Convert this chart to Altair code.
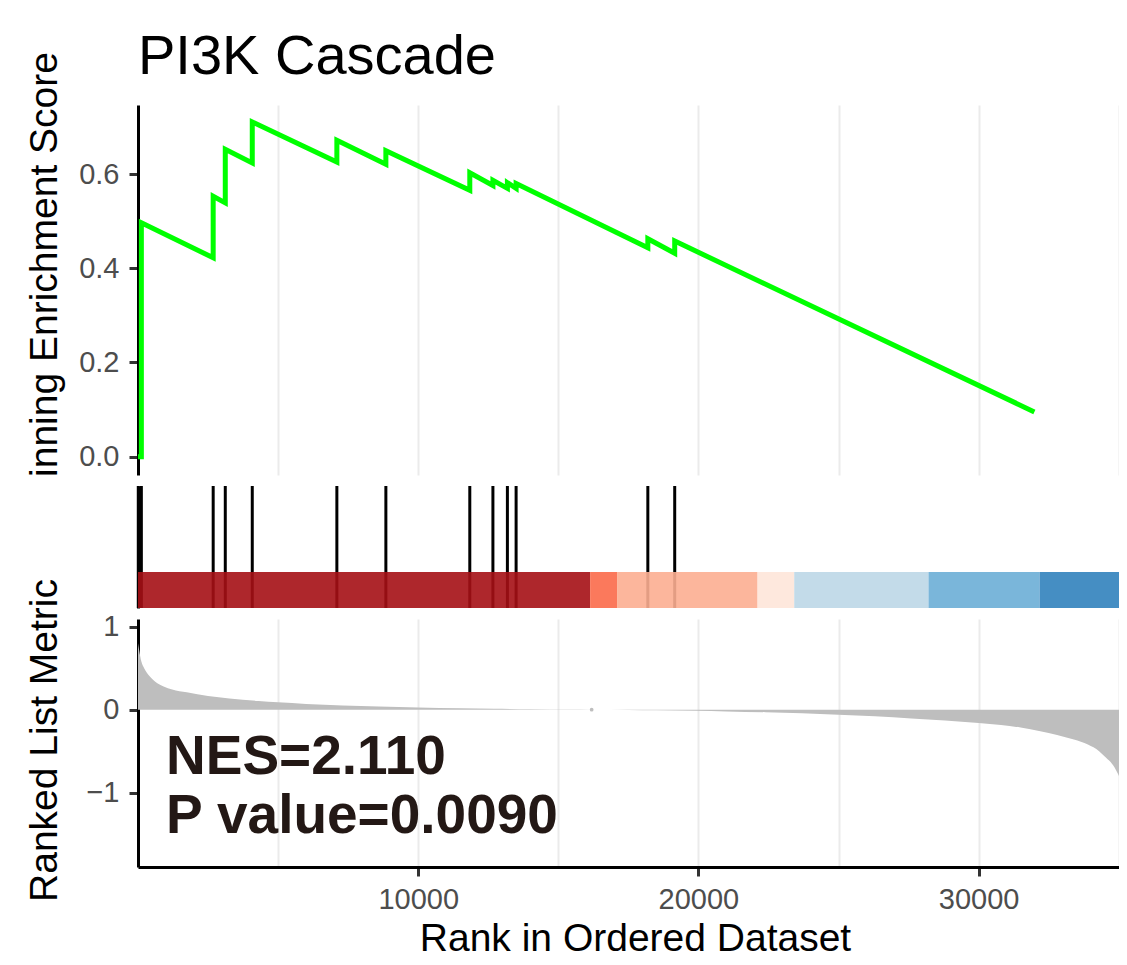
import altair as alt
import pandas as pd

FONT = "Liberation Sans"

# ---- data ----
# running enrichment score path (drawing order; equal ranks = vertical jumps)
es_rank = [0, 120, 120, 2683, 2683, 3115, 3115, 4078, 4078, 7097, 7097,
           8846, 8846, 11841, 11841, 12666, 12666, 13183, 13183, 13494, 13494,
           18195, 18195, 19154, 19154, 31990]
es_score = [0.0, 0.0, 0.497, 0.4225, 0.553, 0.539, 0.653, 0.624, 0.711,
            0.626, 0.672, 0.621, 0.650, 0.566, 0.603, 0.576, 0.587, 0.570, 0.582,
            0.570, 0.580, 0.444, 0.463, 0.432, 0.458, 0.095]

# gene-set hits
hit_rank = [10, 120, 2683, 3115, 4078, 7097, 8846, 11841, 12666, 13183, 13494, 18195, 19154]

# colour bar segments
bar_start = [0, 16135, 17097, 22110, 23419, 28212, 32177]
bar_end = [16135, 17097, 22110, 23419, 28212, 32177, 35010]
bar_color = ["#A50F15", "#FB6A4A", "#FCAE91", "#FEE5D9", "#BDD7E7", "#6BAED6", "#3182BD"]

# ranked list metric
metric_rank = [0, 40, 120, 220, 400, 690, 914, 1221, 1740, 2500, 3260, 4300, 5000,
               6000, 7300, 8600, 10000, 11500, 12700, 14000, 15400, 16200, 17500,
               18500, 19900, 21000, 22400, 23700, 25000, 26300, 27600, 28800, 30000,
               30800, 31500, 32200, 32800, 33400, 33900, 34300, 34550, 34800, 35010]
metric_value = [0.80, 0.72, 0.58, 0.50, 0.41, 0.32, 0.28, 0.245, 0.21, 0.165, 0.135,
                0.105, 0.09, 0.07, 0.052, 0.04, 0.028, 0.019, 0.012, 0.006, 0.002,
                0.0, -0.003, -0.007, -0.012, -0.02, -0.03, -0.043, -0.06, -0.08,
                -0.105, -0.13, -0.16, -0.185, -0.215, -0.26, -0.305, -0.36, -0.42,
                -0.50, -0.58, -0.67, -0.80]
zero_dot_rank = [16190]
zero_dot_value = [0.0]

title_text = "PI3K Cascade"
stat_labels = ["NES=2.110", "P value=0.0090"]

grid_vals = [5000, 10000, 15000, 20000, 25000, 30000, 35000]

# ---- chart ----
W = 981
xs = alt.Scale(domain=[0, 35010], nice=False, zero=False)

AX = dict(domainColor="black", domainWidth=3, tickColor="#333333", tickWidth=3,
          tickSize=9, labelFont=FONT, labelFontSize=29, labelColor="#4D4D4D",
          titleFont=FONT, titleFontSize=39, titleColor="black", titleFontWeight="normal")

es_df = pd.DataFrame({"idx": list(range(len(es_rank))), "rank": es_rank, "score": es_score})

es_line = alt.Chart(es_df).mark_line(color="#00FF00", strokeWidth=5).encode(
    x=alt.X("rank:Q", scale=xs,
            axis=alt.Axis(values=grid_vals, labels=False, ticks=False, domain=False,
                          grid=True, gridColor="#EBEBEB", gridWidth=2, title=None)),
    y=alt.Y("score:Q", scale=alt.Scale(domain=[-0.039, 0.747], nice=False, zero=False),
            axis=alt.Axis(values=[0, 0.2, 0.4, 0.6], format=".1f", grid=False,
                          labelPadding=10, title="inning Enrichment Score",
                          titleX=-82, titleY=159, titleAngle=270, titleAlign="center",
                          titleBaseline="alphabetic", **AX)),
    order="idx:Q",
)
title_mark = alt.Chart(pd.DataFrame({"t": [title_text]})).mark_text(
    align="left", baseline="alphabetic", fontSize=56, font=FONT, color="black"
).encode(x=alt.value(0), y=alt.value(-31), text="t:N")

es_panel = alt.layer(es_line, title_mark).properties(width=W, height=370)

hit_ys = alt.Scale(domain=[0, 1], nice=False, zero=False)
hit_df = pd.DataFrame({"rank": hit_rank, "y0": [0] * len(hit_rank), "y1": [1] * len(hit_rank)})
hits = alt.Chart(hit_df).mark_rule(color="black", strokeWidth=3).encode(
    x=alt.X("rank:Q", scale=xs, axis=None),
    y=alt.Y("y0:Q", scale=hit_ys,
            axis=alt.Axis(labels=False, ticks=False, grid=False, title=None,
                          domainColor="black", domainWidth=3)),
    y2="y1:Q",
)
bar_df = pd.DataFrame({"start": bar_start, "end": bar_end, "color": bar_color,
                       "y0": [0] * len(bar_start), "y1": [0.295] * len(bar_start)})
bars = alt.Chart(bar_df).mark_rect(opacity=0.9).encode(
    x=alt.X("start:Q", scale=xs, axis=None),
    x2="end:Q",
    y=alt.Y("y0:Q", scale=hit_ys),
    y2="y1:Q",
    fill=alt.Fill("color:N", scale=None),
)
hit_panel = alt.layer(hits, bars).properties(width=W, height=122)

m_df = pd.DataFrame({"rank": metric_rank, "value": metric_value})
m_ys = alt.Scale(domain=[-1.895, 1.093], nice=False, zero=False)
area = alt.Chart(m_df).mark_area(color="#BEBEBE", interpolate="monotone").encode(
    x=alt.X("rank:Q", scale=xs,
            axis=alt.Axis(values=grid_vals, format="d", grid=True, gridColor="#EBEBEB",
                          gridWidth=2,
                          labelExpr="datum.value % 10000 === 0 ? datum.label : ''",
                          tickOpacity={"condition": {"test": "datum.value % 10000 === 0", "value": 1}, "value": 0},
                          labelPadding=9, title="Rank in Ordered Dataset",
                          titleX=497, titleY=83.5, titleAlign="center",
                          titleBaseline="alphabetic", **AX)),
    y=alt.Y("value:Q", scale=m_ys,
            axis=alt.Axis(values=[-1, 0, 1], format="d", grid=False, labelPadding=10,
                          title="Ranked List Metric", titleX=-82, titleY=121,
                          titleAngle=270, titleAlign="center", titleBaseline="alphabetic",
                          **AX)),
    y2=alt.datum(0),
)
dot = alt.Chart(pd.DataFrame({"rank": zero_dot_rank, "value": zero_dot_value})).mark_circle(
    size=14, color="#BEBEBE", opacity=1).encode(x=alt.X("rank:Q", scale=xs), y=alt.Y("value:Q", scale=m_ys))

nes = alt.Chart(pd.DataFrame({"t": [stat_labels[0]]})).mark_text(
    align="left", baseline="alphabetic", fontSize=55, fontWeight="bold", font=FONT, color="#231815"
).encode(x=alt.value(28), y=alt.value(155), text="t:N")
pval = alt.Chart(pd.DataFrame({"t": [stat_labels[1]]})).mark_text(
    align="left", baseline="alphabetic", fontSize=55, fontWeight="bold", font=FONT, color="#231815"
).encode(x=alt.value(28), y=alt.value(214), text="t:N")

metric_panel = alt.layer(area, dot, nes, pval).properties(width=W, height=248)

chart = alt.vconcat(es_panel, hit_panel, metric_panel, spacing=11, bounds="flush").properties(
    padding={"left": 16, "top": 21, "right": 0, "bottom": 0},
    background="white",
).configure(font=FONT).configure_view(stroke=None)

chart.save("out.html", embed_options={"renderer": "svg", "actions": False})
